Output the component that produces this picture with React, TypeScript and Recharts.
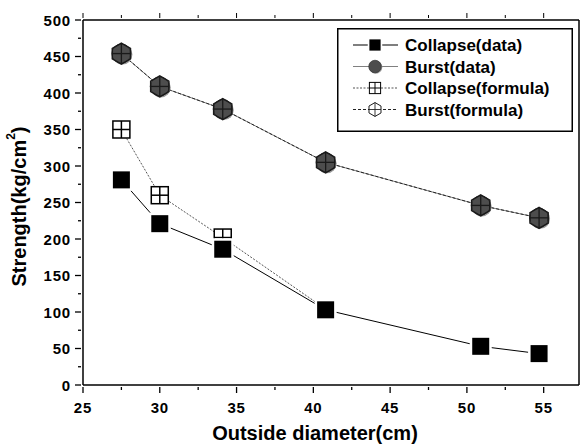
import { LineChart, Line, XAxis, YAxis, Legend } from "recharts";

const diameters = [27.5, 30.0, 34.1, 40.8, 50.9, 54.7];
const collapseData = [281, 221, 186, 103, 53, 43];
const burstData = [454, 409, 378, 305, 246, 229];
const collapseFormula = [350, 260, 202, 104];
const burstFormula = [454, 409, 378, 305, 246, 229];

const seriesNames = ["Collapse(data)", "Burst(data)", "Collapse(formula)", "Burst(formula)"];
const xTicks = [25, 27.5, 30, 32.5, 35, 37.5, 40, 42.5, 45, 47.5, 50, 52.5, 55];
const yTicks = [0, 25, 50, 75, 100, 125, 150, 175, 200, 225, 250, 275, 300, 325, 350, 375, 400, 425, 450, 475, 500];

const rows = (ys: number[]) => ys.map((v, i) => ({ d: diameters[i], v }));

const FONT = "'Liberation Sans', Arial, sans-serif";

const XTick = ({ x, y, payload }: any) => {
  const major = payload.value % 5 === 0;
  return (
    <g>
      <line x1={x} x2={x} y1={y} y2={y + (major ? 6 : 3)} stroke="#000" strokeWidth={1.3} />
      {major && (
        <text x={x} y={y + 26} textAnchor="middle" fontSize={15} letterSpacing={0.8} fontWeight="bold" fontFamily={FONT} fill="#000">
          {payload.value}
        </text>
      )}
    </g>
  );
};

const TopTick = ({ x, y, payload }: any) => {
  const major = payload.value % 5 === 0;
  return <line x1={x} x2={x} y1={y} y2={y - (major ? 5 : 3)} stroke="#000" strokeWidth={1} />;
};

const YTick = ({ x, y, payload }: any) => {
  const major = payload.value % 50 === 0;
  return (
    <g>
      <line x1={x} x2={x - (major ? 6 : 3)} y1={y} y2={y} stroke="#000" strokeWidth={1.3} />
      {major && (
        <text x={x - 10} y={y + 5.5} textAnchor="end" fontSize={15} letterSpacing={0.8} fontWeight="bold" fontFamily={FONT} fill="#000">
          {payload.value}
        </text>
      )}
    </g>
  );
};

const SquareDot = ({ cx, cy }: any) => (
  <g>
    <rect x={cx - 11} y={cy - 11} width={22} height={22} fill="#fff" />
    <rect x={cx - 8.5} y={cy - 8.5} width={17} height={17} fill="#000" />
  </g>
);

const CircleDot = ({ cx, cy }: any) => (
  <g>
    <circle cx={cx + 1} cy={cy + 1} r={10} fill="#999" />
    <circle cx={cx} cy={cy} r={9.5} fill="#4d4d4d" stroke="#333" strokeWidth={1} />
  </g>
);

const BoxCross = ({ cx, cy }: any) => (
  <g>
    <rect x={cx - 8.5} y={cy - 8.5} width={17} height={17} fill="#fff" stroke="#000" strokeWidth={1.5} />
    <line x1={cx} x2={cx} y1={cy - 8.5} y2={cy + 8.5} stroke="#000" strokeWidth={1.5} />
    <line x1={cx - 8.5} x2={cx + 8.5} y1={cy} y2={cy} stroke="#000" strokeWidth={1.5} />
  </g>
);

const hexPath = (cx: number, cy: number, r: number) => {
  const pts = [0, 1, 2, 3, 4, 5].map((k) => {
    const a = (Math.PI / 3) * k - Math.PI / 2;
    return `${cx + r * Math.cos(a)},${cy + r * Math.sin(a)}`;
  });
  return `M${pts.join("L")}Z`;
};

const HexCross = ({ cx, cy, hexFill }: any) => (
  <g>
    <path d={hexPath(cx, cy, 10.5)} fill={hexFill || "none"} stroke="#1a1a1a" strokeWidth={1.5} />
    <line x1={cx} x2={cx} y1={cy - 10.5} y2={cy + 10.5} stroke="#1a1a1a" strokeWidth={1.3} />
    <line x1={cx - 9.1} x2={cx + 9.1} y1={cy} y2={cy} stroke="#1a1a1a" strokeWidth={1.3} />
  </g>
);

const lineStyles = [
  { stroke: "#000", dash: undefined, Mark: SquareDot },
  { stroke: "#808080", dash: undefined, Mark: CircleDot },
  { stroke: "#555", dash: "2 1.5", Mark: BoxCross },
  { stroke: "#222", dash: "3 2", Mark: (p: any) => <HexCross {...p} hexFill="#fff" /> },
];

const LegendBox = () => (
  <svg width={236} height={104} style={{ display: "block" }}>
    <rect x={0.75} y={0.75} width={234.5} height={102.5} fill="#fff" stroke="#000" strokeWidth={1.5} />
    {seriesNames.map((name, i) => {
      const cy = 17 + i * 21.5;
      const s = lineStyles[i];
      const Mark = s.Mark;
      return (
        <g key={name}>
          <line x1={16} x2={61} y1={cy} y2={cy} stroke={s.stroke} strokeWidth={1.2} strokeDasharray={s.dash} />
          <g transform={`translate(38, ${cy}) scale(0.66) translate(-38, ${-cy})`}>
            <Mark cx={38} cy={cy} />
          </g>
          <text x={68} y={cy + 6} fontSize={17} fontWeight="bold" fontFamily={FONT} fill="#000">
            {name}
          </text>
        </g>
      );
    })}
  </svg>
);

const YTitle = ({ viewBox }: any) => {
  const cx = viewBox.x + 19;
  const cy = viewBox.y + viewBox.height / 2 + 4;
  return (
    <text
      x={cx}
      y={cy}
      transform={`rotate(-90, ${cx}, ${cy})`}
      textAnchor="middle"
      dominantBaseline="central"
      fontSize={20}
      fontWeight="bold"
      fontFamily={FONT}
      fill="#000"
    >
      Strength(kg/cm
      <tspan dy={-8} fontSize={12}>2</tspan>
      <tspan dy={8}>)</tspan>
    </text>
  );
};

const XTitle = ({ viewBox }: any) => {
  const cx = viewBox.x + viewBox.width / 2 - 16;
  return (
    <text x={cx} y={440} textAnchor="middle" fontSize={20} fontWeight="bold" fontFamily={FONT} fill="#000">
      Outside diameter(cm)
    </text>
  );
};

export default function App() {
  return (
    <div style={{ position: "absolute", left: 0, top: 0, width: 581, height: 444, background: "#fff" }}>
      <LineChart width={581} height={444} margin={{ top: 15, right: 0, bottom: 19, left: 0 }}>
        <XAxis
          xAxisId="b"
          dataKey="d"
          type="number"
          domain={[25, 57.3]}
          ticks={xTicks}
          interval={0}
          tickSize={0}
          tickLine={false}
          tick={<XTick />}
          height={40}
          axisLine={{ stroke: "#000", strokeWidth: 1.5 }}
          allowDataOverflow
          label={<XTitle />}
        />
        <XAxis
          xAxisId="t"
          orientation="top"
          dataKey="d"
          type="number"
          domain={[25, 57.3]}
          ticks={xTicks}
          interval={0}
          tickSize={0}
          tickLine={false}
          tick={<TopTick />}
          height={5}
          axisLine={{ stroke: "#000", strokeWidth: 1.5 }}
          allowDataOverflow
        />
        <YAxis
          yAxisId="l"
          type="number"
          domain={[0, 500]}
          ticks={yTicks}
          interval={0}
          tickSize={0}
          tickLine={false}
          tick={<YTick />}
          width={83}
          axisLine={{ stroke: "#000", strokeWidth: 1.5 }}
          label={<YTitle />}
        />
        <YAxis
          yAxisId="r"
          orientation="right"
          type="number"
          domain={[0, 500]}
          tick={false}
          tickLine={false}
          width={2}
          axisLine={{ stroke: "#000", strokeWidth: 1.5 }}
        />
        <Legend
          layout="vertical"
          align="center"
          verticalAlign="middle"
          wrapperStyle={{ left: 337, top: 28, width: 236, height: 104 }}
          content={() => <LegendBox />}
        />
        <Line
          name={seriesNames[2]}
          xAxisId="b"
          yAxisId="l"
          data={rows(collapseFormula)}
          dataKey="v"
          type="linear"
          stroke="#555"
          strokeWidth={1}
          strokeDasharray="2 1.5"
          dot={(p: any) => <BoxCross key={`bx${p.index}`} cx={p.cx} cy={p.cy} />}
          isAnimationActive={false}
        />
        <Line
          name={seriesNames[1]}
          xAxisId="b"
          yAxisId="l"
          data={rows(burstData)}
          dataKey="v"
          type="linear"
          stroke="#808080"
          strokeWidth={1}
          dot={(p: any) => <CircleDot key={`ci${p.index}`} cx={p.cx} cy={p.cy} />}
          isAnimationActive={false}
        />
        <Line
          name={seriesNames[3]}
          xAxisId="b"
          yAxisId="l"
          data={rows(burstFormula)}
          dataKey="v"
          type="linear"
          stroke="#222"
          strokeWidth={1}
          strokeDasharray="3 2"
          dot={(p: any) => <HexCross key={`hx${p.index}`} cx={p.cx} cy={p.cy} />}
          isAnimationActive={false}
        />
        <Line
          name={seriesNames[0]}
          xAxisId="b"
          yAxisId="l"
          data={rows(collapseData)}
          dataKey="v"
          type="linear"
          stroke="#000"
          strokeWidth={1}
          dot={(p: any) => <SquareDot key={`sq${p.index}`} cx={p.cx} cy={p.cy} />}
          isAnimationActive={false}
        />
      </LineChart>
    </div>
  );
}
